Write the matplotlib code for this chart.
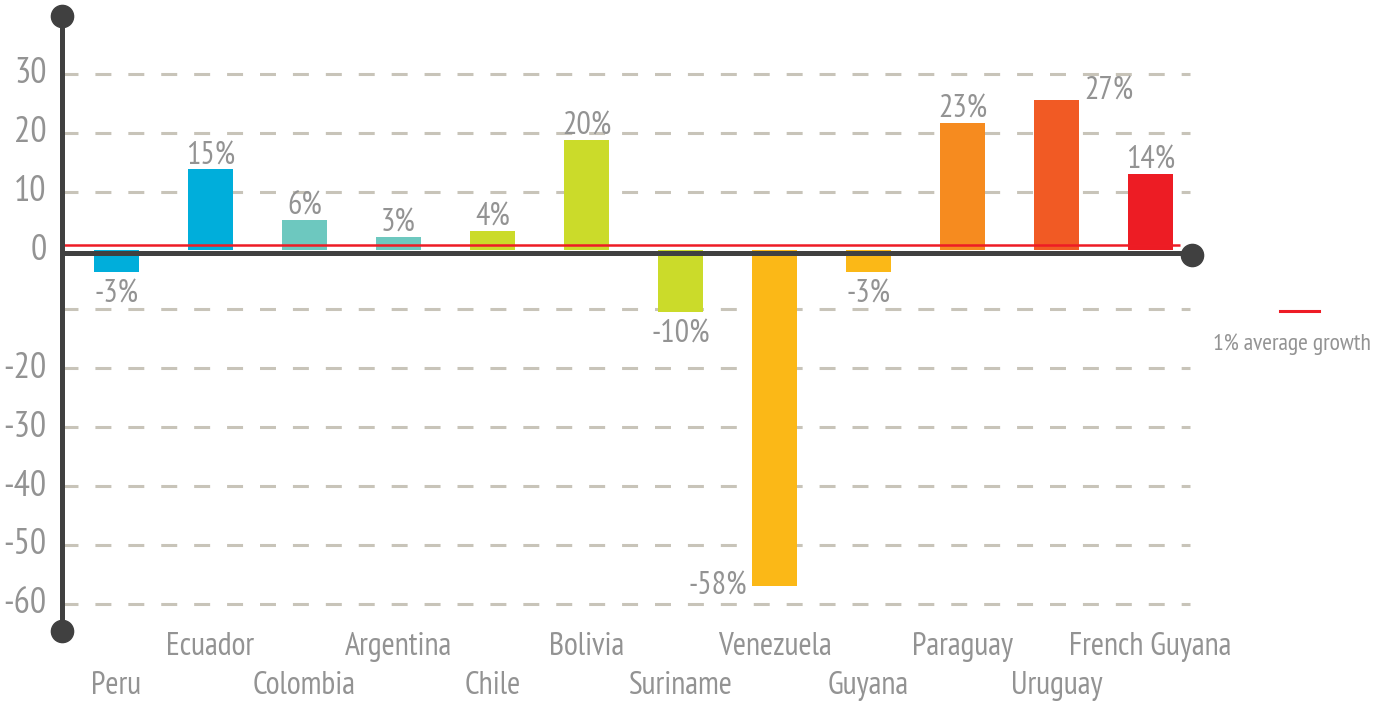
import matplotlib.pyplot as plt
from matplotlib.lines import Line2D
import numpy as np

plt.rcParams['font.family'] = ['PT Sans Narrow', 'DejaVu Sans']
plt.rcParams['lines.scale_dashes'] = False

countries = ['Peru', 'Ecuador', 'Colombia', 'Argentina', 'Chile', 'Bolivia',
             'Suriname', 'Venezuela', 'Guyana', 'Paraguay', 'Uruguay', 'French Guyana']
growth = [-3.6, 13.8, 5.2, 2.3, 3.3, 18.8, -10.4, -57.0, -3.6, 21.7, 25.6, 13.0]
growth_labels = ['-3%', '15%', '6%', '3%', '4%', '20%', '-10%', '-58%', '-3%', '23%', '27%', '14%']
average_growth = 1
ytick_values = [30, 20, 10, 0, -20, -30, -40, -50, -60]
grid_values = [30, 20, 10, -10, -20, -30, -40, -50, -60]

colors = ['#00AEDB', '#00AEDB', '#6DC8BF', '#6DC8BF', '#CBDB2A', '#CBDB2A',
          '#CBDB2A', '#FBB817', '#FBB817', '#F68B1F', '#F15A24', '#ED1C24']
label_side = ['below', 'above', 'above', 'above', 'above', 'above',
              'below', 'left', 'below', 'above', 'right', 'above']

GREY = '#939393'
AXIS = '#404040'
PX = 0.72  # pixels -> points at dpi 100

fig = plt.figure(figsize=(13.74, 7.01), dpi=100)
ax = fig.add_axes([0, 0, 1, 1])
ax.set_xlim(-1.239, 13.378)
ax.set_ylim(-76.49, 42.53)
ax.axis('off')

x = np.arange(len(countries))
x_axis = -0.58
x_end = 11.44

# dashed grid
ax.hlines(grid_values, x_axis, x_end - 0.02, colors='#C8C4B9', lw=2.2,
          linestyles=(0, (11.5, 12.2)), zorder=1)

# bars
bw = 0.48
ax.bar(x, growth, width=bw, color=colors, zorder=2)

# average line
ax.hlines(average_growth, x_axis, 11.31, colors='#EE1C25', lw=1.8, zorder=3)

# axes with dots
ax.hlines(-0.5, x_axis, x_end, colors=AXIS, lw=3.6, zorder=4)
ax.vlines(x_axis, -64.6, 39.8, colors=AXIS, lw=3.6, zorder=4)
ax.plot([x_axis, x_axis, x_end], [39.8, -64.6, -0.76], 'o', ms=16, color=AXIS, zorder=5)

# y tick labels
for v in ytick_values:
    ax.text(-0.745, v, str(v), ha='right', va='center', fontsize=26, color=GREY)

# value labels
for xi, v, lab, side in zip(x, growth, growth_labels, label_side):
    if side == 'above':
        ax.annotate(lab, (xi, v), xytext=(0, 5 * PX), textcoords='offset points',
                    ha='center', va='baseline', fontsize=23, color=GREY)
    elif side == 'below':
        ax.annotate(lab, (xi, v), xytext=(0, -8 * PX), textcoords='offset points',
                    ha='center', va='top', fontsize=23, color=GREY)
    elif side == 'left':
        ax.annotate(lab, (xi - bw / 2, v), xytext=(-5 * PX, 0), textcoords='offset points',
                    ha='right', va='center', fontsize=23, color=GREY)
    else:
        ax.annotate(lab, (xi + bw / 2, v), xytext=(5 * PX, 0), textcoords='offset points',
                    ha='left', va='baseline', fontsize=23, color=GREY)

# category labels, staggered in two rows
for xi, name in zip(x, countries):
    y = -75.3 if xi % 2 == 0 else -68.7
    ax.text(xi, y, name, ha='center', va='baseline', fontsize=23, color=GREY)

# legend
fig.add_artist(Line2D([1280 / 1374, 1319 / 1374], [1 - 311 / 701, 1 - 311 / 701],
                      color='#EE1C25', lw=2.2, transform=fig.transFigure))
fig.text(1213 / 1374, 1 - 350 / 701, '1% average growth', ha='left', va='baseline',
         fontsize=17, color=GREY)

fig.savefig('out.png', dpi=100)
